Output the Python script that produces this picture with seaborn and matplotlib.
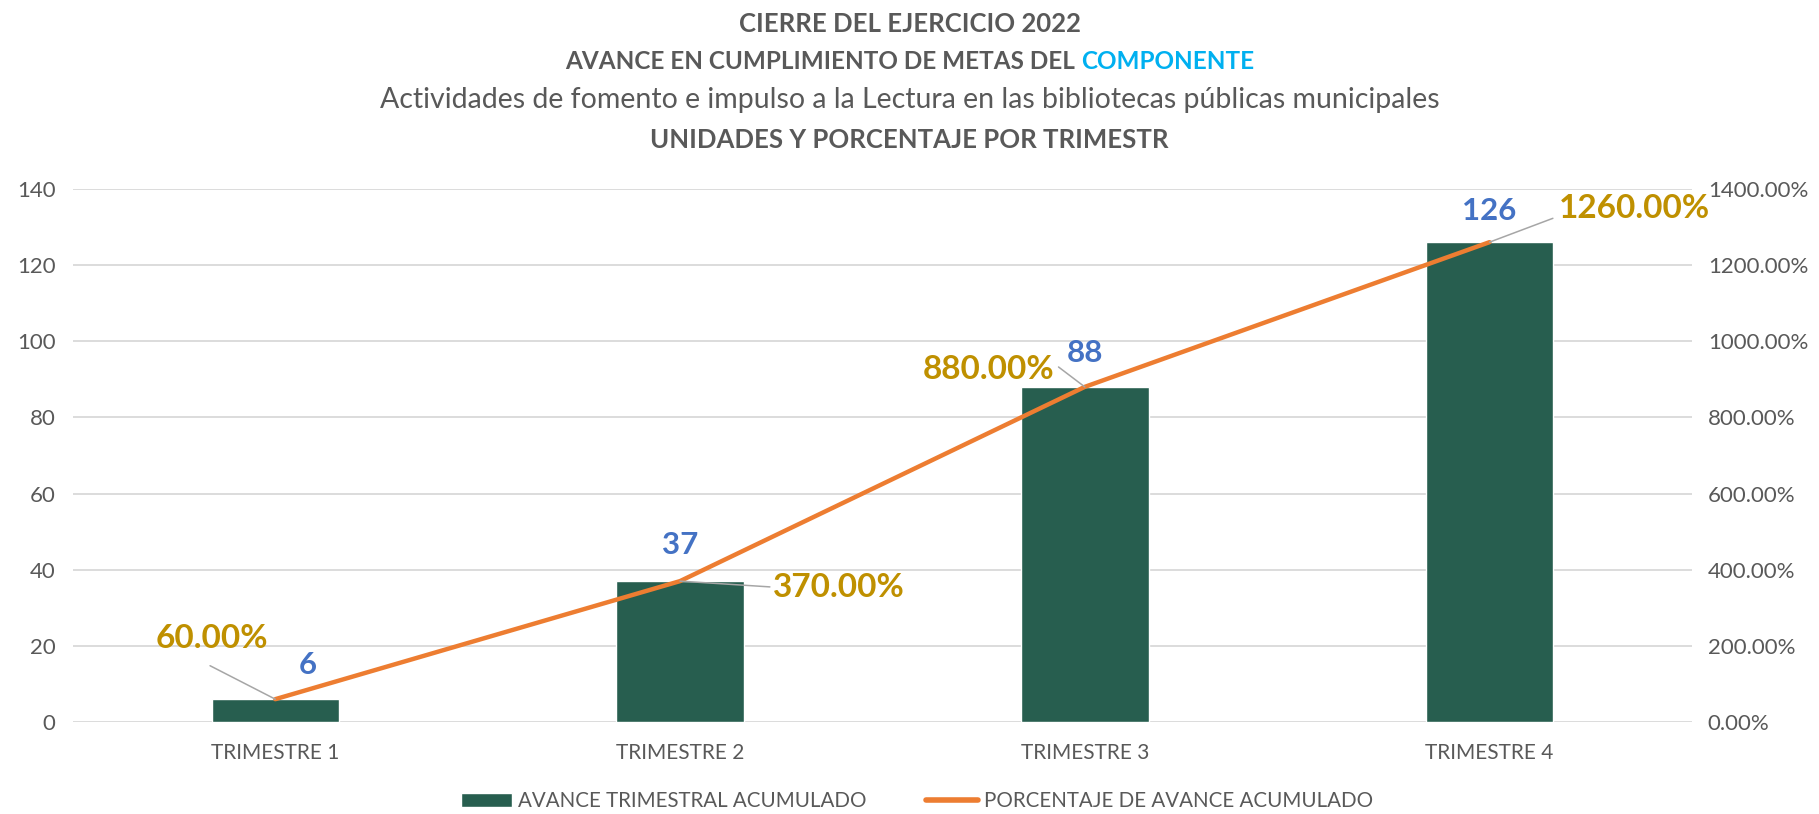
import numpy as np
import pandas as pd
import matplotlib
matplotlib.use("Agg")
import matplotlib.pyplot as plt
from matplotlib.patches import Patch
from matplotlib.lines import Line2D
from matplotlib.ticker import FuncFormatter, MultipleLocator
import seaborn as sns

# data
trimestres = ["TRIMESTRE 1", "TRIMESTRE 2", "TRIMESTRE 3", "TRIMESTRE 4"]
avance = [6, 37, 88, 126]
porcentaje = [0.60, 3.70, 8.80, 12.60]   # 60% ... 1260%

bar_label = "AVANCE TRIMESTRAL ACUMULADO"
line_label = "PORCENTAJE DE AVANCE ACUMULADO"

GREEN = "#275E4F"
ORANGE = "#ED7D31"
BLUE = "#4472C4"
GOLD = "#BF9000"
GRAY = "#595959"
GRID = "#D9D9D9"

sns.set_theme(style="white")
plt.rcParams["font.family"] = ["Lato", "DejaVu Sans"]

df = pd.DataFrame({"trimestre": trimestres, "avance": avance, "pct": porcentaje})

fig = plt.figure(figsize=(18.19, 8.14), dpi=100)
ax = fig.add_axes([0.0401, 0.113, 0.890, 0.655])

sns.barplot(data=df, x="trimestre", y="avance", color=GREEN, width=0.315,
            saturation=1, ax=ax)
ax.set_ylim(0, 140)
ax.yaxis.set_major_locator(MultipleLocator(20))
ax.set_xlim(-0.5, 3.5)
ax.grid(axis="y", color=GRID, lw=1.3)
ax.set_axisbelow(True)
ax.set_xlabel("")
ax.set_ylabel("")
for s in ax.spines.values():
    s.set_visible(False)
ax.tick_params(axis="y", length=0, pad=12.5, labelsize=16, labelcolor=GRAY)
ax.tick_params(axis="x", length=0, pad=15, labelsize=15, labelcolor=GRAY)

ax2 = ax.twinx()
sns.pointplot(data=df, x="trimestre", y="pct", color=ORANGE, marker="",
              linewidth=3.2, ax=ax2)
ax2.set_ylim(0, 14)
ax2.set_xlim(-0.5, 3.5)
ax2.yaxis.set_major_locator(MultipleLocator(2))
ax2.yaxis.set_major_formatter(FuncFormatter(lambda v, p: f"{v*100:.2f}%"))
ax2.set_ylabel("")
ax2.set_xlabel("")
for s in ax2.spines.values():
    s.set_visible(False)
ax2.tick_params(axis="y", length=0, pad=11.5, labelsize=16, labelcolor=GRAY)

# value labels on bars (blue)
blue_off = [(32, 34), (0, 36), (0, 34), (0, 31)]
for i, v in enumerate(avance):
    ax.annotate(f"{v}", (i, v), xytext=blue_off[i], textcoords="offset pixels",
                ha="center", va="center", fontsize=22.5, fontweight="bold",
                color=BLUE)

# percentage labels on line (gold) with leader lines
gold_off = [(-63, 61), (159, -6), (-96, 17), (145, 34)]
relpos = [(0.48, -0.45), (0.0, 0.5), (1.03, 0.6), (-0.04, 0.15)]
for i, p in enumerate(porcentaje):
    ax2.annotate(f"{p*100:.2f}%", (i, p), xytext=gold_off[i],
                 textcoords="offset pixels", ha="center", va="center",
                 fontsize=24, fontweight="bold", color=GOLD,
                 arrowprops=dict(arrowstyle="-", color="#A6A6A6", lw=1.1,
                                 relpos=relpos[i], shrinkA=0, shrinkB=0))

# titles
fig.text(0.5, 0.971, "CIERRE DEL EJERCICIO 2022", ha="center", va="center",
         fontsize=18.5, fontweight="bold", color=GRAY)
part1 = "AVANCE EN CUMPLIMIENTO DE METAS DEL "
part2 = "COMPONENTE"
r = fig.canvas.get_renderer()
full = fig.text(0.5, 0.925, part1 + part2, ha="center", va="center",
                fontsize=17.5, fontweight="bold", color=GRAY)
bb = full.get_window_extent(r)
full.remove()
t1 = fig.text(bb.x0 / fig.bbox.width, 0.925, part1.rstrip(), ha="left",
              va="center", fontsize=17.5, fontweight="bold", color=GRAY)
t2 = fig.text(bb.x1 / fig.bbox.width, 0.925, part2, ha="right", va="center",
              fontsize=17.5, fontweight="bold", color="#00B0F0")
fig.text(0.5, 0.877,
         "Actividades de fomento e impulso a la Lectura en las bibliotecas públicas municipales",
         ha="center", va="center", fontsize=20.5, color=GRAY)
fig.text(0.5, 0.828, "UNIDADES Y PORCENTAJE POR TRIMESTR", ha="center",
         va="center", fontsize=18.5, fontweight="bold", color=GRAY)

handles = [Patch(facecolor=GREEN, label=bar_label),
           Line2D([0], [0], color=ORANGE, lw=4, label=line_label)]
fig.legend(handles=handles, loc="center", bbox_to_anchor=(0.504, 0.016),
           ncol=2, frameon=False, fontsize=14.8, labelcolor=GRAY,
           handlelength=2.5, handletextpad=0.3, columnspacing=2.9)

fig.savefig("out.png", dpi=100)
